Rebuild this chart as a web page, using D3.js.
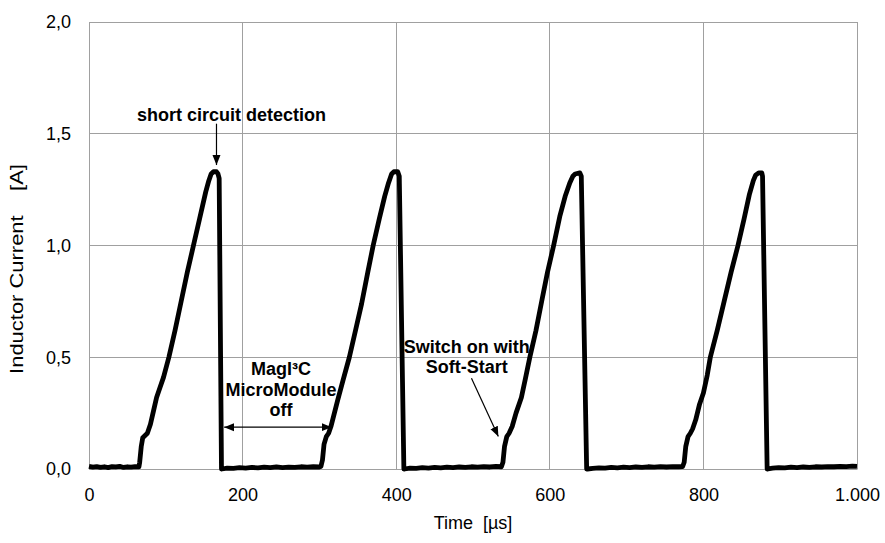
<!DOCTYPE html>
<html>
<head>
<meta charset="utf-8">
<script src="https://cdn.jsdelivr.net/npm/d3@7"></script>
<style>
  body { margin: 0; background: #fff; }
  text { font-family: "Liberation Sans", Arial, sans-serif; }
</style>
</head>
<body>
<div id="chart"></div>
<script>
// measured trace: [time in µs, inductor current in A]
const trace = [
  [0,0.012],[5,0.008],[10,0.011],[15,0.007],[20,0.010],[25,0.006],[30,0.011],[35,0.009],
  [40,0.012],[45,0.007],[50,0.010],[55,0.008],[60,0.011],[65,0.010],
  // cycle 1
  [66,0.03],[68,0.10],[70,0.14],[73,0.15],[76,0.16],[80,0.20],[84,0.26],[88,0.32],[92,0.36],
  [97,0.41],[104,0.50],[112,0.62],[120,0.75],[128,0.88],[136,1.00],[144,1.12],[152,1.24],
  [156,1.29],[159,1.32],[162,1.33],[166,1.33],[168,1.32],[169.5,1.30],[172.5,0.0],
  [173,0.000],[180,0.004],[188,0.003],[196,0.006],[204,0.004],[212,0.007],[220,0.005],
  [228,0.008],[236,0.006],[244,0.009],[252,0.006],[260,0.008],[268,0.007],[276,0.010],
  [284,0.008],[292,0.010],[300,0.009],[302,0.011],
  // cycle 2
  [304,0.04],[306,0.11],[309,0.145],[312,0.16],[315,0.19],[318,0.23],[324,0.31],[331,0.40],
  [339,0.50],[347,0.62],[355,0.74],[363,0.88],[370,1.00],[378,1.12],[385,1.22],[390,1.28],
  [394,1.32],[397,1.33],[402,1.33],[404,1.31],[410,0.0],
  [411,0.000],[418,0.004],[426,0.003],[434,0.006],[442,0.004],[450,0.007],[458,0.005],
  [466,0.008],[474,0.006],[482,0.009],[490,0.007],[498,0.010],[506,0.008],[514,0.011],
  [522,0.009],[530,0.012],[537,0.010],
  // cycle 3
  [539,0.03],[541,0.10],[544,0.145],[547,0.16],[551,0.19],[556,0.25],[563,0.32],[568,0.40],
  [574,0.50],[582,0.62],[590,0.76],[597,0.88],[605,1.00],[613,1.13],[620,1.22],[626,1.28],
  [630,1.31],[633,1.32],[639,1.325],[641,1.31],[648,0.0],
  [649,0.000],[656,0.003],[664,0.005],[672,0.004],[680,0.007],[688,0.005],[696,0.008],
  [704,0.006],[712,0.009],[720,0.007],[728,0.010],[736,0.008],[744,0.011],[752,0.009],
  [760,0.011],[768,0.010],[773,0.011],
  // cycle 4
  [775,0.03],[777,0.10],[780,0.145],[783,0.16],[786,0.18],[790,0.22],[795,0.29],[800,0.34],
  [805,0.42],[809,0.50],[818,0.62],[827,0.75],[836,0.88],[845,1.00],[853,1.12],[860,1.23],
  [865,1.29],[868,1.315],[872,1.325],[876,1.325],[877,1.31],[883,0.0],
  [884,0.000],[890,0.004],[898,0.006],[906,0.005],[914,0.008],[922,0.006],[930,0.009],
  [938,0.007],[946,0.010],[954,0.009],[962,0.011],[970,0.010],[978,0.012],[986,0.011],
  [994,0.013],[1000,0.012]
];

const xTicks = [0, 200, 400, 600, 800, 1000];
const yTicks = [0, 0.5, 1.0, 1.5, 2.0];

const xTitle = "Time  [µs]";
const yTitle = "Inductor Current    [A]";

// annotations in data units
const scLabel = {t: 185.5, v: 1.558, lines: ["short circuit detection"]};
const scArrow = [[166, 1.545], [166, 1.36]];
const offLabel = {t: 250, v: 0.42, lines: ["MagI³C", "MicroModule", "off"]};
const offArrow = [[176, 0.187], [316, 0.187]];
const ssLabel = {t: 492, v: 0.52, lines: ["Switch on with", "Soft-Start"]};
const ssArrow = [[498, 0.406], [533, 0.145]];

const W = 885, H = 543;
const margin = {top: 22, right: 28, bottom: 74, left: 89};
const width = W - margin.left - margin.right,
      height = H - margin.top - margin.bottom;

const svg = d3.select("#chart").append("svg")
    .attr("width", W)
    .attr("height", H);

const g = svg.append("g")
    .attr("transform", `translate(${margin.left},${margin.top})`);

const x = d3.scaleLinear().domain([0, 1000]).range([0, width]);
const y = d3.scaleLinear().domain([0, 2]).range([height, 0]);

const deLocale = d3.formatLocale({decimal: ",", thousands: ".", grouping: [3], currency: ["", "€"]});
const fmtX = deLocale.format(",");
const fmtY = deLocale.format(".1f");

const gridColor = "#a0a0a0";

// grid
g.append("g").selectAll("line").data(xTicks).enter().append("line")
    .attr("x1", d => x(d)).attr("x2", d => x(d))
    .attr("y1", 0).attr("y2", height)
    .attr("stroke", gridColor).attr("stroke-width", 1)
    .attr("shape-rendering", "crispEdges");
g.append("g").selectAll("line").data(yTicks).enter().append("line")
    .attr("x1", 0).attr("x2", width)
    .attr("y1", d => y(d)).attr("y2", d => y(d))
    .attr("stroke", gridColor).attr("stroke-width", 1)
    .attr("shape-rendering", "crispEdges");

// axes (labels only)
const xAxis = g.append("g")
    .attr("transform", `translate(0,${height})`)
    .call(d3.axisBottom(x).tickValues(xTicks).tickFormat(fmtX).tickSize(0).tickPadding(19));
const yAxis = g.append("g")
    .call(d3.axisLeft(y).tickValues(yTicks).tickFormat(fmtY).tickSize(0).tickPadding(18));
[xAxis, yAxis].forEach(a => {
  a.select(".domain").attr("stroke", gridColor);
  a.selectAll("text").attr("font-size", 18).attr("fill", "#000")
    .attr("font-family", "Liberation Sans, Arial, sans-serif");
});

// trace
const line = d3.line().x(d => x(d[0])).y(d => y(d[1]));
g.append("path")
    .datum(trace)
    .attr("d", line)
    .attr("fill", "none")
    .attr("stroke", "#000")
    .attr("stroke-width", 4.8)
    .attr("stroke-linejoin", "round")
    .attr("stroke-linecap", "butt");

// arrow markers
const defs = svg.append("defs");
defs.append("marker").attr("id", "head")
    .attr("viewBox", "0 0 10 10").attr("refX", 10).attr("refY", 5)
    .attr("markerWidth", 10).attr("markerHeight", 10)
    .attr("markerUnits", "userSpaceOnUse")
    .attr("orient", "auto-start-reverse")
  .append("path").attr("d", "M0,1 L10,5 L0,9 Z").attr("fill", "#000");

function arrow(pts, both) {
  g.append("line")
      .attr("x1", x(pts[0][0])).attr("y1", y(pts[0][1]))
      .attr("x2", x(pts[1][0])).attr("y2", y(pts[1][1]))
      .attr("stroke", "#000").attr("stroke-width", 1.2)
      .attr("marker-end", "url(#head)")
      .attr("marker-start", both ? "url(#head)" : null);
}

function label(l) {
  const t = g.append("text")
      .attr("x", x(l.t)).attr("y", y(l.v))
      .attr("text-anchor", "middle")
      .attr("font-size", 18).attr("font-weight", "bold");
  l.lines.forEach((s, i) => {
    t.append("tspan").attr("x", x(l.t)).attr("dy", i ? 20.5 : 0).text(s);
  });
}

arrow(scArrow, false);
arrow(offArrow, true);
arrow(ssArrow, false);
label(scLabel);
label(offLabel);
label(ssLabel);

// axis titles
svg.append("text")
    .attr("x", margin.left + width / 2).attr("y", 529)
    .attr("text-anchor", "middle")
    .attr("font-size", 18)
    .style("white-space", "pre")
    .text(xTitle);
svg.append("text")
    .attr("transform", "translate(23,269) rotate(-90) scale(1.22,1)")
    .attr("text-anchor", "middle")
    .attr("font-size", 18)
    .style("white-space", "pre")
    .text(yTitle);
</script>
</body>
</html>
